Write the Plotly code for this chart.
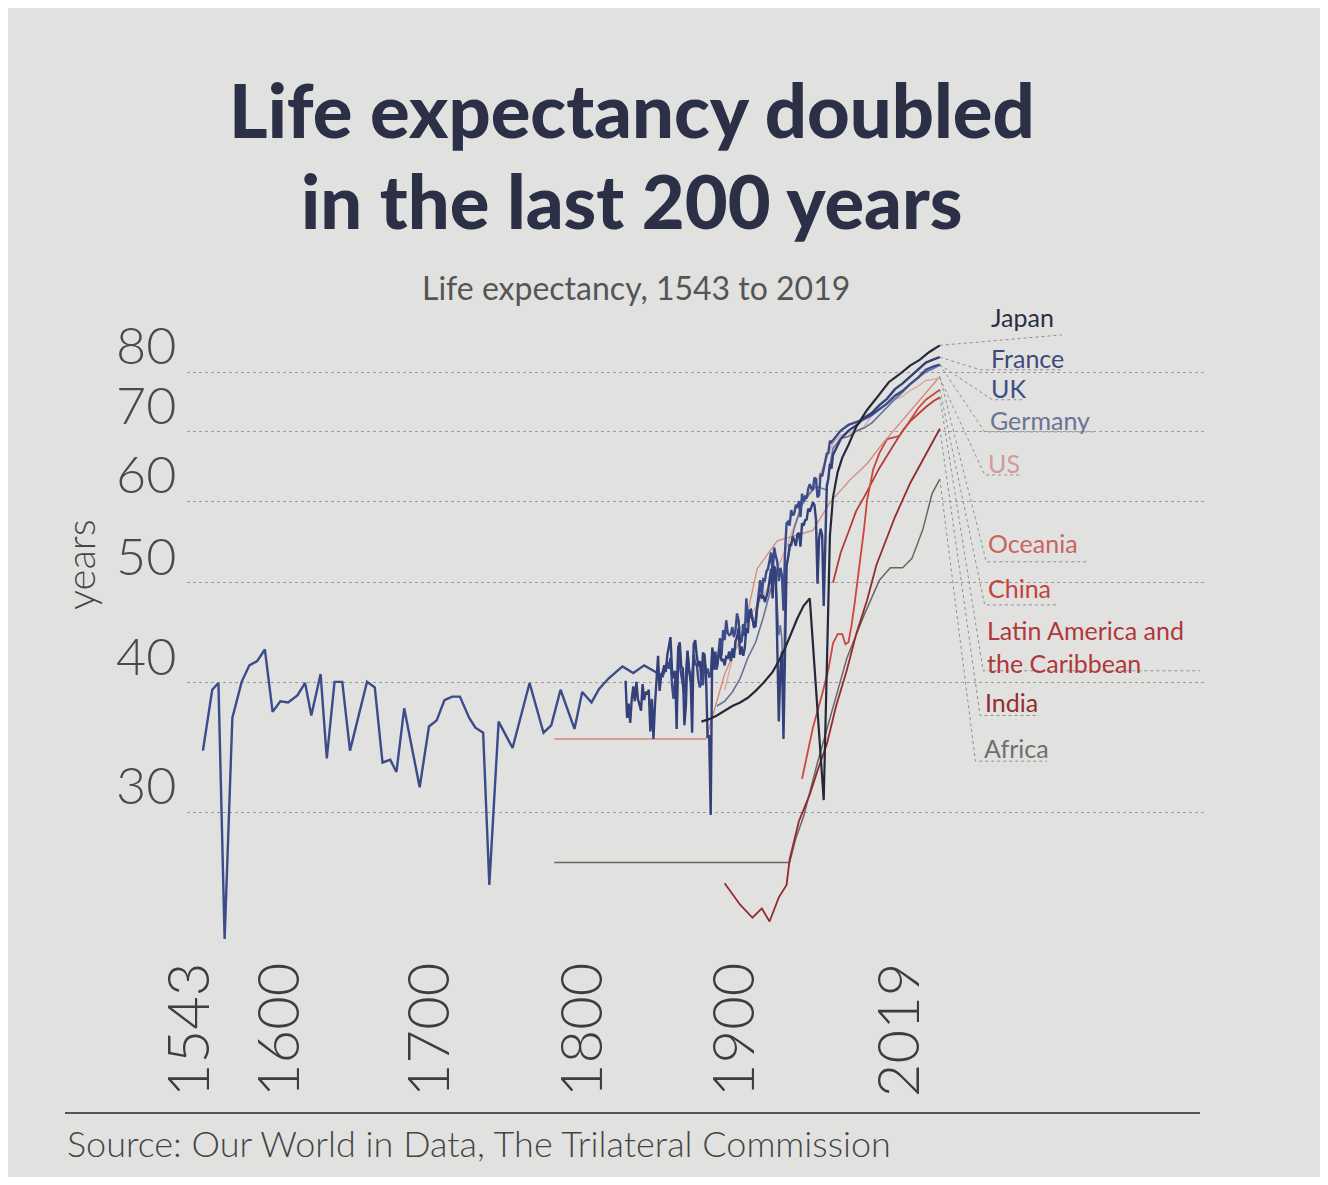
import math
import plotly.graph_objects as go

# ---- values (life expectancy, years) ----

uk_years = ([1543, 1549, 1553, 1557, 1562, 1568, 1573, 1578, 1583, 1588, 1593, 1598,
             1604, 1609, 1613, 1619, 1623, 1628, 1633, 1638, 1649, 1654, 1659, 1664,
             1668, 1673, 1683, 1689, 1694, 1699, 1704, 1709, 1715, 1719, 1724, 1728,
             1734, 1743, 1754, 1763, 1768, 1774, 1783, 1788, 1794, 1799, 1805, 1814,
             1821, 1828, 1834, 1840]
            + list(range(1841, 1951))
            + [1955, 1960, 1965, 1970, 1975, 1980, 1985, 1990, 1995, 2000, 2005, 2010, 2015, 2019])
uk_values = [34.4, 39.4, 40.0, 22.6, 37.0, 40.1, 41.6, 42.0, 43.1, 37.5, 38.4, 38.3,
             38.9, 40.0, 37.2, 40.8, 33.8, 40.1, 40.1, 34.4, 40.1, 39.6, 33.5, 33.7,
             32.8, 37.8, 31.7, 36.3, 36.8, 38.5, 38.8, 38.8, 37.0, 36.2, 35.8, 25.5,
             36.7, 34.6, 40.0, 35.8, 36.4, 39.4, 36.1, 39.2, 38.3, 39.5, 40.4, 41.5,
             40.9, 41.6, 41.1, 40.6,
             41.0, 41.3, 41.9, 41.3, 42.3, 39.8, 38.6, 40.2, 37.9, 43.0,
             41.6, 40.6, 39.8, 39.0, 40.8, 42.9, 41.3, 40.1, 40.6, 42.6,
             41.7, 41.7, 40.3, 39.6, 40.2, 39.8, 42.0, 41.0, 41.3, 40.5,
             40.8, 43.1, 42.6, 41.3, 41.3, 43.2, 44.2, 42.5, 45.0, 44.0,
             46.0, 44.7, 44.5, 44.6, 45.3, 44.3, 45.0, 46.7, 46.0, 43.8,
             43.9, 45.6, 44.4, 48.3, 45.7, 46.9, 46.3, 46.2, 45.2, 46.0,
             47.3, 49.0, 50.3, 48.5, 50.4, 50.3, 51.3, 51.6, 52.6, 53.5,
             51.0, 54.1, 53.1, 52.4, 50.2, 51.7, 50.9, 47.0, 53.5, 57.1,
             57.3, 56.8, 58.8, 58.1, 58.4, 59.5, 59.1, 60.0, 57.9, 61.0,
             60.0, 60.6, 60.4, 61.7, 62.3, 61.7, 61.5, 63.2, 63.0, 60.5,
             60.8, 63.8, 63.4, 64.5, 65.5, 66.7, 66.8, 68.6, 68.4, 68.7,
             70.2, 71.1, 71.6, 72.0, 72.7, 73.7, 74.6, 75.9, 76.7, 77.9, 79.0, 80.4, 81.0, 81.3]

france_years = list(range(1816, 1951)) + [1955, 1960, 1965, 1970, 1975, 1980, 1985, 1990,
                                          1995, 2000, 2005, 2010, 2015, 2019]
france_values = [40.2, 37.0, 38.2, 36.6, 38.6, 39.7, 38.4, 40.1, 38.6, 38.0,
                 37.6, 39.9, 38.5, 39.2, 39.0, 39.4, 35.9, 38.6, 35.3, 38.1,
                 40.5, 42.5, 39.3, 40.7, 41.0, 41.6, 41.0, 42.6, 43.4, 44.3,
                 41.2, 40.4, 41.1, 36.1, 43.3, 43.8, 41.5, 41.3, 36.4, 38.1,
                 43.0, 41.1, 40.6, 35.8, 43.6, 44.0, 42.5, 41.5, 42.0, 40.2,
                 42.8, 42.6, 40.6, 35.4, 35.6, 29.8, 43.3, 41.2, 42.9, 41.5,
                 42.3, 43.2, 42.0, 42.2, 41.6, 42.4, 42.3, 42.9, 42.0, 43.2,
                 42.3, 43.9, 44.3, 45.2, 42.6, 43.4, 42.5, 43.2, 45.2, 44.7,
                 47.0, 47.1, 46.1, 45.4, 45.4, 47.3, 48.2, 48.6, 48.4, 48.6,
                 47.9, 48.4, 49.1, 50.3, 51.6, 48.3, 51.9, 51.4, 43.5, 36.7,
                 41.2, 42.9, 35.3, 43.5, 51.9, 52.9, 54.4, 54.4, 55.4, 55.0,
                 54.3, 55.7, 55.9, 54.2, 57.1, 56.8, 57.5, 57.6, 59.0, 58.6,
                 59.2, 59.8, 59.5, 57.6, 49.9, 55.2, 56.4, 55.6, 47.5, 54.6,
                 62.1, 63.1, 65.2, 64.5, 66.5,
                 68.9, 70.2, 71.0, 72.2, 73.0, 74.3, 75.4, 77.0, 78.0, 79.2, 80.3, 81.7, 82.3, 82.7]

germany_years = [1875, 1880, 1885, 1890, 1895, 1900, 1905, 1910, 1913, 1914, 1915, 1916,
                 1917, 1918, 1919, 1920, 1925, 1930, 1935, 1939, 1946, 1948, 1950, 1955,
                 1960, 1965, 1970, 1975, 1980, 1985, 1990, 1995, 2000, 2005, 2010, 2015, 2019]
germany_values = [38.0, 38.4, 39.2, 40.4, 42.3, 43.8, 46.3, 49.4, 50.8, 47.5, 44.5, 45.5,
                  44.0, 39.5, 48.5, 52.0, 56.5, 59.5, 61.0, 62.0, 61.5, 65.0, 67.5, 69.0,
                  69.3, 70.1, 70.6, 71.4, 72.7, 74.0, 75.3, 76.5, 77.9, 79.0, 80.0, 80.6, 81.3]

japan_years = [1865, 1870, 1875, 1880, 1885, 1890, 1895, 1900, 1905, 1911, 1915, 1919,
               1923, 1927, 1931, 1935, 1944, 1946, 1947, 1948, 1950, 1953, 1956, 1960,
               1965, 1972, 1980, 1986, 1993, 2000, 2006, 2012, 2019]
japan_values = [36.7, 36.9, 37.2, 37.6, 38.0, 38.3, 38.7, 39.3, 40.0, 41.0, 42.0, 43.2,
                44.7, 46.2, 47.5, 48.3, 30.8, 41.2, 50.3, 55.5, 60.5, 64.0, 66.1, 68.0,
                70.8, 73.5, 76.1, 78.2, 79.6, 81.2, 82.2, 83.6, 84.9]

us_years = [1880, 1890, 1900, 1910, 1920, 1930, 1940, 1950, 1955, 1960, 1965, 1970,
            1975, 1980, 1985, 1990, 1995, 2000, 2005, 2010, 2015, 2019]
us_values = [39.4, 45.2, 47.3, 50.0, 54.1, 59.7, 62.9, 68.2, 69.5, 69.8, 70.2, 70.8,
             72.6, 73.7, 74.7, 75.2, 75.8, 76.8, 77.5, 78.5, 78.7, 78.9]

oceania_years = [1770, 1868, 1880, 1892, 1901, 1914, 1937, 1948, 1961, 1972, 1982, 1993,
                 2006, 2019]
oceania_values = [35.3, 35.3, 40.8, 44.7, 51.6, 54.9, 56.2, 59.8, 62.9, 65.2, 68.2, 71.3,
                  75.2, 79.2]

china_years = [1930, 1937, 1943, 1947, 1950, 1953, 1956, 1958, 1960, 1962, 1964, 1967,
               1970, 1972, 1976, 1980, 1985, 1990, 1993, 2000, 2005, 2010, 2015, 2019]
china_values = [32.3, 36.2, 39.0, 41.2, 43.7, 44.6, 44.6, 43.6, 43.8, 45.5, 47.8, 51.8,
                56.3, 60.1, 64.4, 66.8, 68.9, 69.2, 69.4, 71.9, 73.8, 75.2, 76.2, 76.9]

latam_years = [1950, 1955, 1960, 1965, 1970, 1975, 1980, 1985, 1990, 1995, 2000, 2005,
               2010, 2015, 2019]
latam_values = [50.0, 53.5, 56.0, 58.7, 60.5, 62.6, 64.6, 66.4, 68.3, 70.2, 71.7, 72.9,
                74.0, 75.0, 75.6]

india_years = [1880, 1885, 1890, 1898, 1904, 1909, 1915, 1920, 1922, 1928, 1935, 1940,
               1946, 1952, 1959, 1965, 1972, 1978, 1985, 1990, 2000, 2010, 2019]
india_values = [25.6, 25.0, 24.4, 23.7, 24.2, 23.5, 24.8, 25.5, 27.0, 29.4, 31.2, 32.9,
                34.9, 38.0, 41.2, 44.6, 48.1, 52.0, 55.5, 57.9, 62.5, 66.7, 70.5]

africa_years = [1770, 1922, 1926, 1931, 1940, 1950, 1959, 1970, 1980, 1987, 1995, 2001,
                2008, 2014, 2019]
africa_values = [26.8, 26.8, 28.3, 29.7, 33.5, 37.8, 42.3, 46.5, 50.3, 51.7, 51.7, 52.8,
                 56.3, 61.0, 63.0]

tick_labels = ["1543", "1600", "1700", "1800", "1900", "2019"]
y_ticks = [30, 40, 50, 60, 70, 80]

# ---- styling / layout ----
BG = "#e1e2e0"
series = [
    # name, years, values, line colour, width, label colour, label text
    ("Africa", africa_years, africa_values, "#6a6563", 1.5, "#6f6f6f", "Africa"),
    ("India", india_years, india_values, "#922b2c", 1.8, "#962c2d", "India"),
    ("Latin America", latam_years, latam_values, "#b73b36", 1.8, "#b0373a",
     "Latin America and<br>the Caribbean"),
    ("China", china_years, china_values, "#cc463d", 1.8, "#c4423d", "China"),
    ("Oceania", oceania_years, oceania_values, "#d4887b", 1.3, "#c9645f", "Oceania"),
    ("US", us_years, us_values, "#d9a79e", 1.3, "#d29b98", "US"),
    ("Germany", germany_years, germany_values, "#69729a", 1.6, "#6a7396", "Germany"),
    ("UK", uk_years, uk_values, "#3c4b8a", 2.4, "#3e4d85", "UK"),
    ("France", france_years, france_values, "#33407a", 2.4, "#3d4a7a", "France"),
    ("Japan", japan_years, japan_values, "#24283a", 2.2, "#2b2f45", "Japan"),
]

# label placement (year on x, value at text middle), leader end, underline end
label_pos = {
    "Japan": (2051, 90.4, (2098, 86.9), 2098),
    "France": (2051, 82.5, (2045, 80.4), 2097),
    "UK": (2051, 77.2, (2053, 75.2), 2074),
    "Germany": (2050, 71.9, (2048, 70.0), 2119),
    "US": (2049, 65.3, (2048, 63.6), 2071),
    "Oceania": (2049, 54.7, (2049, 52.4), 2114),
    "China": (2049, 49.4, (2048, 47.6), 2095),
    "Latin America": (2048, 43.4, (2047, 41.1), 2187),
    "India": (2047, 38.3, (2045, 37.2), 2083),
    "Africa": (2046, 34.6, (2042, 33.6), 2088),
}

# the page adds an 8px body margin, so the figure is 16px smaller than the window
OFF = 8
W, H = 1312, 1169
L, T = 187 - OFF, 300 - OFF
R, B = W - (1205 - OFF), H - (950 - OFF)
pw, ph = W - L - R, H - T - B
x_range = [1532.7, 2190.3]
y_range = [1.34353, 1.97279]

# years where the rotated tick labels sit in the print
tick_positions = [1534.6, 1592.7, 1689.6, 1788.5, 1886.7, 1993.3]


def px_x(px):
    return (px - OFF - L) / pw


def px_y(py):
    return (H - B - (py - OFF)) / ph


fig = go.Figure()

# leader lines from line ends to the labels
for name, yrs, vals, color, width, lcolor, text in series:
    lx, lmid, (ex, ey), uend = label_pos[name]
    fig.add_trace(go.Scatter(
        x=[yrs[-1], ex, uend], y=[vals[-1], ey, ey],
        mode="lines", line=dict(color="#8f8f8f", width=1, dash="dot"),
        hoverinfo="skip", showlegend=False))

for name, yrs, vals, color, width, lcolor, text in series:
    fig.add_trace(go.Scatter(
        x=yrs, y=vals, mode="lines", name=name,
        line=dict(color=color, width=width), showlegend=False))

annotations = []
for name, yrs, vals, color, width, lcolor, text in series:
    lx, lmid, _, _ = label_pos[name]
    annotations.append(dict(
        x=lx, y=math.log10(lmid), xref="x", yref="y", text=text, showarrow=False,
        xanchor="left", yanchor="middle", align="left",
        font=dict(family="Lato", size=25, color=lcolor)))

# y tick labels sit above their gridlines in the print
for v in y_ticks:
    annotations.append(dict(
        x=px_x(178), y=math.log10(v), xref="paper", yref="y", text=str(v),
        showarrow=False, xanchor="right", yanchor="middle", yshift=28,
        font=dict(family="Lato", size=52, color="#4a4a4a", weight=300)))

annotations += [
    dict(x=px_x(632), y=px_y(110), xref="paper", yref="paper", showarrow=False,
         text="Life expectancy doubled", xanchor="center", yanchor="middle",
         font=dict(family="Lato", size=74, color="#2c3047", weight=900)),
    dict(x=px_x(632), y=px_y(200), xref="paper", yref="paper", showarrow=False,
         text="in the last 200 years", xanchor="center", yanchor="middle",
         font=dict(family="Lato", size=74, color="#2c3047", weight=900)),
    dict(x=px_x(636), y=px_y(287), xref="paper", yref="paper", showarrow=False,
         text="Life expectancy, 1543 to 2019", xanchor="center", yanchor="middle",
         font=dict(family="Lato", size=32, color="#555555")),
    dict(x=px_x(80), y=px_y(565), xref="paper", yref="paper", showarrow=False,
         text="years", textangle=-90, xanchor="center", yanchor="middle",
         font=dict(family="Lato", size=40, color="#454545", weight=300)),
    dict(x=px_x(65), y=px_y(1143), xref="paper", yref="paper", showarrow=False,
         text="Source: Our World in Data, The Trilateral Commission",
         xanchor="left", yanchor="middle",
         font=dict(family="Lato", size=36, color="#454545", weight=300)),
]

shapes = [
    dict(type="line", xref="paper", yref="y", x0=0, x1=0,
         y0=math.log10(y_ticks[0]), y1=math.log10(y_ticks[-1]),
         line=dict(color="#888888", width=1.2, dash="dot")),
    dict(type="line", xref="paper", yref="paper", x0=px_x(65), x1=px_x(1200),
         y0=px_y(1113), y1=px_y(1113), line=dict(color="#555555", width=2)),
]

fig.update_layout(
    width=W, height=H,
    margin=dict(l=L, r=R, t=T, b=B),
    paper_bgcolor=BG, plot_bgcolor=BG,
    showlegend=False,
    annotations=annotations,
    shapes=shapes,
    xaxis=dict(
        range=x_range, showgrid=False, zeroline=False, showline=False,
        tickvals=tick_positions, ticktext=tick_labels, tickangle=-90,
        ticks="", ticklen=0,
        tickfont=dict(family="Lato", size=58, color="#3d3d3d", weight=300)),
    yaxis=dict(
        type="log", range=y_range, tickvals=y_ticks, showticklabels=False,
        showgrid=True, gridcolor="#9b9b9b", gridwidth=1, griddash="dot",
        zeroline=False, showline=False),
)

fig.write_html("out.html")
